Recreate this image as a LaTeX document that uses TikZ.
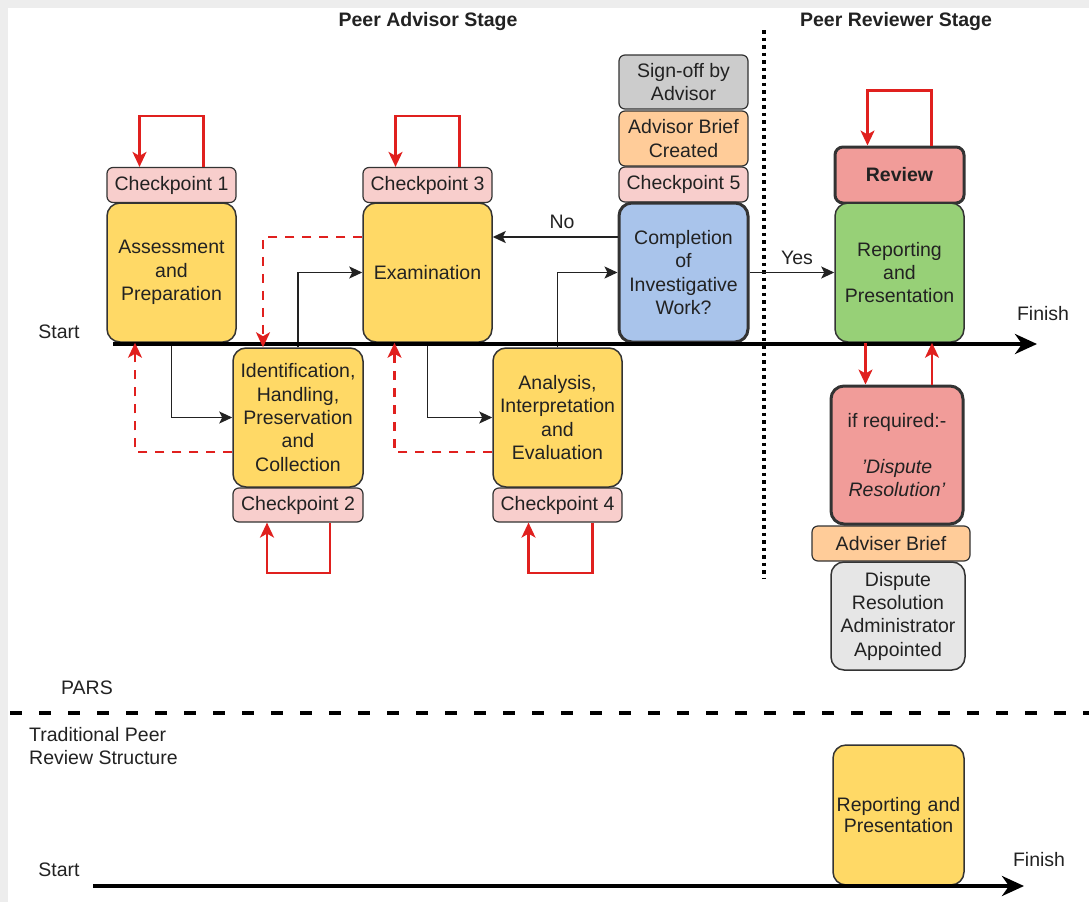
\documentclass[tikz,border=0pt]{standalone}
\usepackage{fontspec}
\setmainfont{Liberation Sans}
\usetikzlibrary{arrows.meta,calc}
\definecolor{yel}{HTML}{FFD966}
\definecolor{pnk}{HTML}{F8CECC}
\definecolor{org}{HTML}{FFCC99}
\definecolor{gry}{HTML}{CCCCCC}
\definecolor{lgry}{HTML}{E6E6E6}
\definecolor{blu}{HTML}{A9C4EB}
\definecolor{grn}{HTML}{97D077}
\definecolor{rdf}{HTML}{F19C99}
\definecolor{rdl}{HTML}{E0201E}
\definecolor{bord}{HTML}{333333}
\definecolor{txt}{HTML}{222222}
\newcommand\myfs{\fontsize{19.5}{23.3}\selectfont}
\begin{document}
\begin{tikzpicture}[x=1pt,y=-1pt,
  box/.style={draw=bord, line width=1.5pt, rounded corners=13pt, inner sep=1pt, align=center, text=txt, font=\myfs},
  smallbox/.style={box, rounded corners=6pt, line width=1.2pt},
  thickbox/.style={box, line width=3pt},
  lbl/.style={text=txt, font=\myfs, inner sep=0pt},
  flow/.style={draw=txt, line width=1.4pt, -{Stealth[length=13pt,width=12pt,inset=3pt]}},
  mainline/.style={draw=black, line width=4pt, -{Stealth[length=22pt,width=20pt,inset=7pt]}},
  redloop/.style={draw=rdl, line width=2.2pt, -{Stealth[length=15pt,width=14pt,inset=4pt]}},
  reddash/.style={draw=rdl, line width=2.2pt, dash pattern=on 9pt off 8pt, -{Stealth[length=15pt,width=14pt,inset=4pt]}},
]
% background
\fill[black!7] (0,0) rectangle (1089,902);
\fill[white] (8,8) rectangle (1089,902);
\useasboundingbox (0,0) rectangle (1089,902);

% headers
\node[lbl, font=\myfs\bfseries] (h1) at (428,22) {Peer Advisor Stage};
\node[lbl, font=\myfs\bfseries] (h2) at (896,22) {Peer Reviewer Stage};

% stage separator
\draw[black, line width=3.5pt, dash pattern=on 3.5pt off 4pt] (764,30) -- (764,578);

% nodes upper row
\node[smallbox, fill=pnk, minimum width=129pt, minimum height=35pt] (cp1) at (171.5,185) {Checkpoint 1};
\node[box, fill=yel, minimum width=129pt, minimum height=139pt] (assess) at (171.5,272.5) {Assessment\\and\\Preparation};
\node[smallbox, fill=pnk, minimum width=129pt, minimum height=35pt] (cp3) at (427.5,185) {Checkpoint 3};
\node[box, fill=yel, minimum width=129pt, minimum height=139pt] (exam) at (427.5,272.5) {Examination};
\node[smallbox, fill=gry, minimum width=129pt, minimum height=54pt] (sign) at (683.5,82) {Sign-off by\\Advisor};
\node[smallbox, fill=org, minimum width=129pt, minimum height=55pt] (brief) at (683.5,138.5) {Advisor Brief\\Created};
\node[smallbox, fill=pnk, minimum width=129pt, minimum height=35pt] (cp5) at (683.5,184.5) {Checkpoint 5};
\node[thickbox, fill=blu, minimum width=129pt, minimum height=139pt] (compl) at (683.5,272.5) {Completion\\of\\Investigative\\Work?};
\node[thickbox, rounded corners=8pt, fill=rdf, minimum width=129pt, minimum height=56pt, font=\myfs\bfseries] (review) at (899.5,175) {Review};
\node[box, fill=grn, minimum width=129pt, minimum height=139pt] (report) at (899.5,272.5) {Reporting\\and\\Presentation};

% lower row
\node[box, fill=yel, minimum width=130pt, minimum height=139pt] (ident) at (298,417.5) {Identification,\\Handling,\\Preservation\\and\\Collection};
\node[smallbox, fill=pnk, minimum width=130pt, minimum height=34pt] (cp2) at (298,505) {Checkpoint 2};
\node[box, fill=yel, minimum width=129pt, minimum height=139pt] (anal) at (557.5,417.5) {Analysis,\\Interpretation\\and\\Evaluation};
\node[smallbox, fill=pnk, minimum width=129pt, minimum height=34pt] (cp4) at (557.5,505) {Checkpoint 4};
\node[thickbox, fill=rdf, minimum width=132pt, minimum height=138pt] (disp) at (897,455) {if required:-\\[23.3pt]\textit{'Dispute}\\\textit{Resolution'}};
\node[smallbox, fill=org, minimum width=158pt, minimum height=35pt] (adv) at (891,543.5) {Adviser Brief};
\node[box, fill=lgry, minimum width=134pt, minimum height=108pt] (admin) at (898,616) {Dispute\\Resolution\\Administrator\\Appointed};

% timeline labels
\node[lbl] (start1) at (59,332) {Start};
\node[lbl] (fin1) at (1043,314) {Finish};
\coordinate (t1s) at (113,344);
\coordinate (t1e) at (1037,344);

% black flow connectors
\draw[flow] (assess.south) |- (ident.west);
\draw[flow] (ident.north) |- (exam.west);
\draw[flow] (exam.south) |- (anal.west);
\draw[flow] (anal.north) |- (compl.west);
\draw[flow, line width=2.2pt] (compl.west |- 0,237) -- (exam.east |- 0,237);
\node[lbl] (no) at (562,222) {No};
\draw[flow] (compl.east) -- (report.west);
\node[lbl] (yes) at (797,258) {Yes};

% main timeline
\draw[mainline] (t1s) -- (t1e);

% red dashed returns
\draw[reddash] (exam.west |- 0,237) -| ([xshift=-35pt]ident.north);
\draw[reddash] (ident.west |- 0,452) -| ([xshift=-36.5pt]assess.south);
\draw[reddash] (anal.west |- 0,452) -| ([xshift=-33pt]exam.south);

% red loops
\draw[redloop] ([xshift=32pt]cp1.north) -- ++(0,-51) -| ([xshift=-32pt]cp1.north);
\draw[redloop] ([xshift=32pt]cp3.north) -- ++(0,-51) -| ([xshift=-32pt]cp3.north);
\draw[redloop] ([xshift=32pt]review.north) -- ++(0,-55) -| ([xshift=-32pt]review.north);
\draw[redloop] ([xshift=32pt]cp2.south) -- ++(0,50) -| ([xshift=-31pt]cp2.south);
\draw[redloop] ([xshift=35pt]cp4.south) -- ++(0,50) -| ([xshift=-29pt]cp4.south);

% review <-> dispute
\draw[redloop] ([xshift=-34pt]report.south) -- ([xshift=-34pt]report.south |- disp.north);
\draw[redloop] ([xshift=32.5pt]report.south |- disp.north) -- ([xshift=32.5pt]report.south);

% PARS separator
\node[lbl] (pars) at (87,688) {PARS};
\draw[black, line width=4pt, dash pattern=on 12pt off 17pt] (10,713) -- (1089,713);
\node[lbl, align=left, anchor=west] (trad) at (29,746) {Traditional Peer\\Review Structure};

% bottom traditional
\node[box, fill=yel, minimum width=131pt, minimum height=140pt, text width=129pt, font=\fontsize{19.5}{21}\selectfont] (rep2) at (898.5,815) {Reporting and\\Presentation};
\node[lbl] (start2) at (59,870) {Start};
\node[lbl] (fin2) at (1039,860) {Finish};
\coordinate (t2s) at (93,886);
\coordinate (t2e) at (1024,886);
\draw[mainline] (t2s) -- (t2e);
\end{tikzpicture}
\end{document}
